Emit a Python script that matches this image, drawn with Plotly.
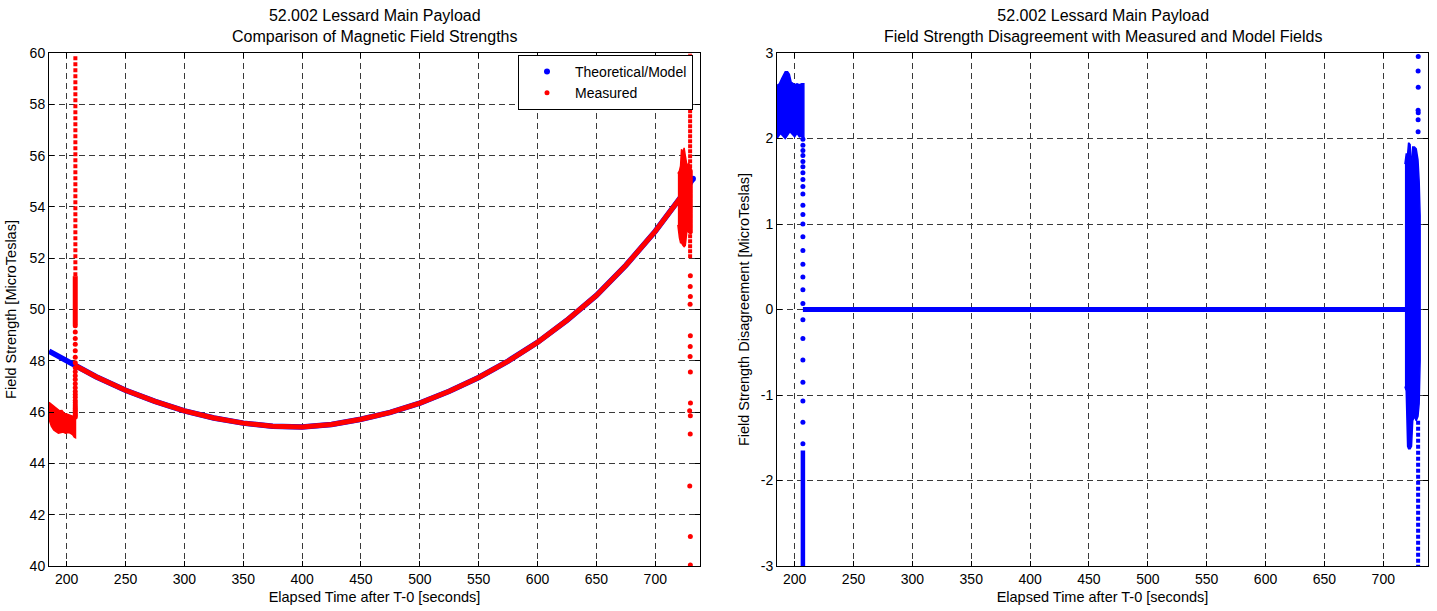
import plotly.graph_objects as go

# ---------------- data: left panel (field strength, microtesla) ----------------
model_t = [185, 200, 207, 225, 250, 275, 300, 325, 350, 375, 400, 425, 450, 475, 500,
           525, 550, 575, 600, 625, 650, 675, 700, 711, 722, 732]
model_b = [48.38, 48.0, 47.82, 47.38, 46.85, 46.42, 46.05, 45.77, 45.57, 45.45, 45.42,
           45.52, 45.72, 45.99, 46.35, 46.81, 47.35, 47.99, 48.72, 49.58, 50.55, 51.72,
           53.05, 53.7, 54.4, 55.1]

# measured field tracking the model between the two noisy episodes
meas_t = [207, 225, 250, 275, 300, 325, 350, 375, 400, 425, 450, 475, 500, 525, 550,
          575, 600, 625, 650, 675, 700, 711, 722]
meas_b = [47.82, 47.38, 46.85, 46.42, 46.05, 45.77, 45.57, 45.45, 45.42, 45.52, 45.72,
          45.99, 46.35, 46.81, 47.35, 47.99, 48.72, 49.58, 50.55, 51.72, 53.05, 53.7, 54.4]

# early noisy measured band (envelope)
band1_up_t = [185, 186.5, 188, 190, 192, 194, 196, 198, 200, 202, 204, 206, 207.5]
band1_up_b = [46.38, 46.32, 46.28, 46.2, 46.1, 46.05, 46.06, 45.95, 45.93, 45.9, 45.88, 45.83, 45.8]
band1_lo_t = [207.5, 206.5, 205, 203, 201, 199, 197, 195, 193, 191, 189, 187, 185]
band1_lo_b = [45.0, 45.02, 45.12, 45.18, 45.2, 45.18, 45.22, 45.2, 45.18, 45.24, 45.3, 45.45, 45.72]

# transition dots at ~207 s
jump1_t = [207.3] * 26
jump1_b = [45.81, 45.88, 45.94, 46.0, 46.07, 46.13, 46.2, 46.28, 46.36, 46.45, 46.58, 46.69,
           46.8, 46.95, 47.11, 47.27, 47.42, 47.57, 47.73, 47.92, 48.14, 48.39, 48.65,
           48.87, 49.12, 49.37]
# dense cluster and sparse spike at ~207 s
clust1_t = [207.3, 207.3]
clust1_b = [49.4, 51.3]
spike1_t = [207.4, 207.4]
spike1_b = [51.3, 59.9]

# late noisy measured cluster (envelope)
clust2_up_t = [719.2, 720.5, 721.5, 722.3, 723.5, 724.5, 725.5, 727, 728.5, 730, 731.2]
clust2_up_b = [55.3, 55.4, 55.6, 56.25, 56.1, 56.3, 56.0, 55.6, 55.7, 55.5, 55.4]
clust2_lo_t = [731.2, 730, 728.5, 727, 725.5, 724.5, 723.5, 722.3, 721.5, 720.5, 719.2]
clust2_lo_b = [53.0, 52.95, 53.0, 53.1, 52.5, 52.45, 52.5, 52.6, 52.6, 52.8, 53.3]
spike2_t = [729.6, 729.6]
spike2_b = [52.0, 60.0]
drop2_t = [729.8, 729.7, 729.8, 729.6, 729.8, 729.7, 729.6, 729.8, 729.9, 729.2, 729.8,
           729.7, 729.3, 729.8, 729.8]
drop2_b = [51.32, 50.9, 50.51, 50.2, 48.98, 48.56, 48.17, 47.56, 46.35, 46.05, 45.86,
           45.15, 43.12, 41.15, 40.04]

# ---------------- data: right panel (model - measured, microtesla) ----------------
band3_up_t = [185, 187, 189, 190.5, 192, 194, 195.5, 197, 198.5, 200, 202, 204, 206, 207.8]
band3_up_d = [2.62, 2.64, 2.7, 2.75, 2.78, 2.78, 2.75, 2.66, 2.64, 2.63, 2.64, 2.63, 2.64, 2.64]
band3_lo_t = [207.8, 206, 204, 202, 200, 198, 196, 194, 192, 190, 188, 186, 185]
band3_lo_d = [2.0, 2.03, 2.02, 2.06, 2.02, 2.05, 2.08, 2.04, 2.0, 2.03, 2.06, 2.02, 2.0]

jump3_t = [207.0] * 26
jump3_d = [1.99, 1.92, 1.86, 1.80, 1.73, 1.67, 1.60, 1.52, 1.44, 1.35, 1.22, 1.11, 1.0,
           0.85, 0.69, 0.53, 0.38, 0.23, 0.07, -0.12, -0.34, -0.59, -0.85, -1.07, -1.32, -1.57]
bar3_t = [207.0, 207.0]
bar3_d = [-1.65, -3.2]

zero_t = [207, 250, 300, 350, 400, 450, 500, 550, 600, 650, 700, 719]
zero_d = [0, 0, 0, 0, 0, 0, 0, 0, 0, 0, 0, 0]

clust4_up_t = [718.4, 719.5, 720.7, 721.5, 722.8, 724.0, 725.0, 726.5, 728.0, 729.5, 730.5, 731.3]
clust4_up_d = [1.7, 1.82, 1.82, 1.95, 1.93, 1.62, 1.9, 1.9, 1.88, 1.75, 1.5, 1.1]
clust4_lo_t = [731.3, 730.5, 729.5, 728.0, 726.5, 725.0, 724.0, 722.8, 721.5, 720.7, 719.5, 718.4]
clust4_lo_d = [-0.6, -1.1, -1.25, -1.3, -1.25, -1.3, -1.6, -1.63, -1.63, -1.6, -0.95, -0.9]
spike4_t = [729.6, 729.6]
spike4_d = [-1.3, -3.1]
top4_t = [729.7, 729.6, 729.7, 729.6, 729.7, 729.6, 729.6]
top4_d = [2.96, 2.79, 2.6, 2.33, 2.3, 2.22, 2.08]

xticks = [200, 250, 300, 350, 400, 450, 500, 550, 600, 650, 700]
yticks_left = [40, 42, 44, 46, 48, 50, 52, 54, 56, 58, 60]
yticks_right = [-3, -2, -1, 0, 1, 2, 3]
yticks_right_text = ["-3", "-2", "-1", "0", "1", "2", "3"]

BLUE = "#0000ff"
RED = "#ff0000"
FONT = "Liberation Sans, Arial, sans-serif"

fig = go.Figure()

def add(tr, right=False):
    tr.update(xaxis="x2" if right else "x", yaxis="y2" if right else "y")
    fig.add_trace(tr)

# ----- left panel -----
add(go.Scatter(x=model_t, y=model_b, mode="lines", line=dict(color=BLUE, width=5.5),
               showlegend=False, hoverinfo="skip"))
add(go.Scatter(x=model_t[-1:], y=model_b[-1:], mode="markers",
               marker=dict(color=BLUE, size=6), name="Theoretical/Model", showlegend=True))
add(go.Scatter(x=band1_up_t + band1_lo_t, y=band1_up_b + band1_lo_b, mode="lines",
               fill="toself", fillcolor=RED, line=dict(color=RED, width=1.5), showlegend=False))
add(go.Scatter(x=meas_t, y=meas_b, mode="lines", line=dict(color=RED, width=5),
               showlegend=False))
add(go.Scatter(x=clust1_t, y=clust1_b, mode="lines", line=dict(color=RED, width=5),
               showlegend=False))
add(go.Scatter(x=spike1_t, y=spike1_b, mode="lines",
               line=dict(color=RED, width=4, dash="4px,2px"), showlegend=False))
add(go.Scatter(x=clust2_up_t + clust2_lo_t, y=clust2_up_b + clust2_lo_b, mode="lines",
               fill="toself", fillcolor=RED, line=dict(color=RED, width=1.5), showlegend=False))
add(go.Scatter(x=spike2_t, y=spike2_b, mode="lines",
               line=dict(color=RED, width=4, dash="4px,1px"), showlegend=False))
add(go.Scatter(x=jump1_t + drop2_t, y=jump1_b + drop2_b, mode="markers",
               marker=dict(color=RED, size=5), name="Measured", showlegend=True))

# ----- right panel -----
add(go.Scatter(x=band3_up_t + band3_lo_t, y=band3_up_d + band3_lo_d, mode="lines",
               fill="toself", fillcolor=BLUE, line=dict(color=BLUE, width=1.5),
               showlegend=False), right=True)
add(go.Scatter(x=jump3_t, y=jump3_d, mode="markers", marker=dict(color=BLUE, size=5),
               showlegend=False), right=True)
add(go.Scatter(x=bar3_t, y=bar3_d, mode="lines", line=dict(color=BLUE, width=4.5),
               showlegend=False), right=True)
add(go.Scatter(x=zero_t, y=zero_d, mode="lines", line=dict(color=BLUE, width=5),
               showlegend=False), right=True)
add(go.Scatter(x=clust4_up_t + clust4_lo_t, y=clust4_up_d + clust4_lo_d, mode="lines",
               fill="toself", fillcolor=BLUE, line=dict(color=BLUE, width=1.5),
               showlegend=False), right=True)
add(go.Scatter(x=spike4_t, y=spike4_d, mode="lines",
               line=dict(color=BLUE, width=4, dash="4px,2px"), showlegend=False), right=True)
add(go.Scatter(x=top4_t, y=top4_d, mode="markers", marker=dict(color=BLUE, size=5),
               showlegend=False), right=True)

W, H = 1437, 611
L1, R1 = 49 / W, 700 / W
L2, R2 = 777 / W, 1428 / W
TOP, BOT = 1 - 53 / H, 1 - 566 / H

axis_common = dict(
    automargin=False,
    showline=True, linecolor="black", linewidth=1, mirror="ticks",
    ticks="inside", ticklen=5, tickcolor="black", tickwidth=1,
    showgrid=True, gridcolor="#3a3a3a", gridwidth=1, griddash="6px,4px",
    zeroline=False, tickfont=dict(family=FONT, size=14, color="black"),
)
title_font = dict(family=FONT, size=14.5, color="black")

fig.update_layout(
    width=W, height=H, margin=dict(l=0, r=0, t=0, b=0, autoexpand=False),
    paper_bgcolor="white", plot_bgcolor="white",
    font=dict(family=FONT, size=14, color="black"),
    xaxis=dict(domain=[L1, R1], range=[185, 738], tickvals=xticks, anchor="y",
               title=dict(text="Elapsed Time after T-0 [seconds]", font=title_font, standoff=6),
               **axis_common),
    yaxis=dict(domain=[BOT, TOP], range=[40, 60], tickvals=yticks_left, anchor="x",
               title=dict(text="Field Strength [MicroTeslas]", font=title_font, standoff=9),
               **axis_common),
    xaxis2=dict(domain=[L2, R2], range=[185, 738], tickvals=xticks, anchor="y2",
                title=dict(text="Elapsed Time after T-0 [seconds]", font=title_font, standoff=6),
                **axis_common),
    yaxis2=dict(domain=[BOT, TOP], range=[-3, 3], tickvals=yticks_right,
                ticktext=yticks_right_text, anchor="x2",
                title=dict(text="Field Strength Disagreement [MicroTeslas]", font=title_font,
                           standoff=7),
                **axis_common),
    legend=dict(x=518 / W, y=1 - 55 / H, xanchor="left", yanchor="top",
                bgcolor="white", bordercolor="black", borderwidth=1,
                font=dict(family=FONT, size=14, color="black"),
                itemwidth=46, tracegroupgap=0),
    annotations=[
        dict(text="52.002 Lessard Main Payload<br>Comparison of Magnetic Field Strengths",
             x=(L1 + R1) / 2, y=1 - 26.5 / H, xref="paper", yref="paper",
             xanchor="center", yanchor="middle", showarrow=False,
             font=dict(family=FONT, size=16, color="black")),
        dict(text="52.002 Lessard Main Payload<br>Field Strength Disagreement with Measured and Model Fields",
             x=(L2 + R2) / 2, y=1 - 26.5 / H, xref="paper", yref="paper",
             xanchor="center", yanchor="middle", showarrow=False,
             font=dict(family=FONT, size=16, color="black")),
    ],
)

fig.write_html("out.html")
